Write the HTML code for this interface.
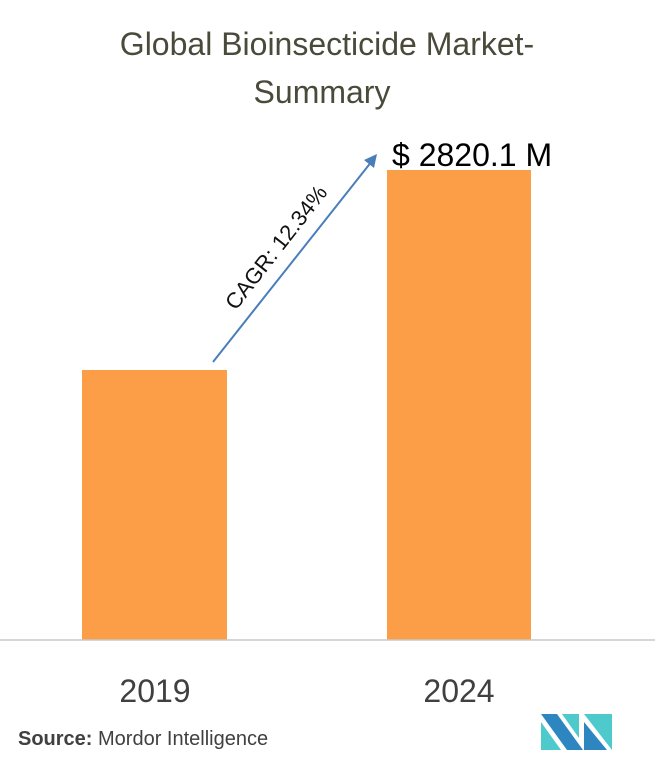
<!DOCTYPE html>
<html><head><style>
body{margin:0;width:655px;height:771px;background:#fff;overflow:hidden;font-family:"Liberation Sans",sans-serif;}
</style></head><body>
<svg width="655" height="771" xmlns="http://www.w3.org/2000/svg">
<text x="327" y="55" text-anchor="middle" font-size="32" fill="#4a4a3a" font-family="Liberation Sans">Global Bioinsecticide Market-</text>
<text x="322" y="103" text-anchor="middle" font-size="32" fill="#4a4a3a" font-family="Liberation Sans">Summary</text>
<rect x="82" y="370" width="145" height="270" fill="#fb9e47"/>
<rect x="387" y="170" width="144" height="470" fill="#fb9e47"/>
<line x1="0" y1="640" x2="655" y2="640" stroke="#c8c8c8" stroke-width="1.5"/>
<line x1="213" y1="362" x2="372" y2="161" stroke="#4a7ebb" stroke-width="2"/>
<polygon points="377,154 364,160 374,168" fill="#4a7ebb"/>
<text transform="translate(282,252) rotate(-52)" text-anchor="middle" font-size="22" fill="#111">CAGR: 12.34%</text>
<text x="392" y="166" font-size="32" fill="#000">$ 2820.1 M</text>
<text x="155" y="702" text-anchor="middle" font-size="32" fill="#404040">2019</text>
<text x="459" y="702" text-anchor="middle" font-size="32" fill="#404040">2024</text>
<text x="18" y="745" font-size="20" fill="#404040"><tspan font-weight="bold">Source:</tspan> Mordor Intelligence</text>
<polygon points="541,714 557,714 583,750 567,750" fill="#2e86c1"/>
<polygon points="541,722 541,750 561,750" fill="#4ec9cc"/>
<polygon points="562,714 579,714 579,738" fill="#4ec9cc"/>
<polygon points="584,714 612,714 612,750" fill="#4ec9cc"/>
<polygon points="584,722 584,750 607,750" fill="#2e86c1"/>
</svg>
</body></html>
